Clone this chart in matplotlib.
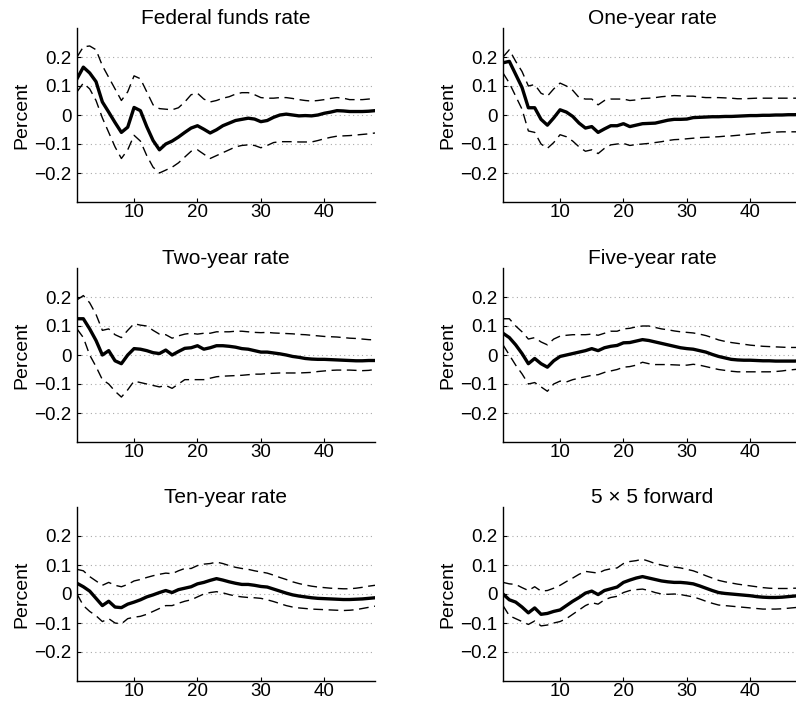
import numpy as np
import matplotlib
matplotlib.use('Agg')
import matplotlib.pyplot as plt

plt.rcParams['font.family'] = ['Liberation Sans', 'DejaVu Sans']
plt.rcParams['axes.unicode_minus'] = True

# horizon (months)
months = list(range(1, 49))

titles = ['Federal funds rate', 'One-year rate', 'Two-year rate',
          'Five-year rate', 'Ten-year rate', '5 \u00d7 5 forward']

# point estimates and bands
ff_mid = [0.125, 0.165, 0.145, 0.115, 0.045, 0.01, -0.026, -0.06, -0.042, 0.026,
          0.015, -0.04, -0.088, -0.12, -0.1, -0.09, -0.076, -0.06, -0.045, -0.037,
          -0.049, -0.062, -0.051, -0.037, -0.028, -0.019, -0.015, -0.011, -0.014, -0.023,
          -0.019, -0.008, 0.0, 0.003, 0.0, -0.003, -0.002, -0.003, 0.0, 0.006,
          0.01, 0.015, 0.014, 0.012, 0.012, 0.012, 0.013, 0.015]
ff_up = [0.2, 0.235, 0.238, 0.225, 0.17, 0.13, 0.09, 0.05, 0.08, 0.135,
         0.125, 0.08, 0.035, 0.022, 0.02, 0.018, 0.025, 0.045, 0.07, 0.075,
         0.055, 0.045, 0.05, 0.058, 0.063, 0.072, 0.077, 0.077, 0.07, 0.06,
         0.058, 0.058, 0.06, 0.06, 0.057, 0.053, 0.05, 0.048, 0.05, 0.053,
         0.057, 0.06, 0.058, 0.053, 0.053, 0.053, 0.055, 0.057]
ff_lo = [0.08, 0.11, 0.09, 0.05, -0.01, -0.06, -0.11, -0.15, -0.12, -0.07,
         -0.09, -0.14, -0.18, -0.2, -0.19, -0.18, -0.165, -0.145, -0.125, -0.12,
         -0.135, -0.15, -0.14, -0.13, -0.12, -0.11, -0.105, -0.103, -0.105, -0.113,
         -0.105, -0.095, -0.092, -0.092, -0.092, -0.093, -0.093, -0.093, -0.088, -0.082,
         -0.077, -0.073, -0.072, -0.071, -0.069, -0.067, -0.065, -0.062]

y1_mid = [0.18, 0.185, 0.14, 0.095, 0.025, 0.025, -0.015, -0.035, -0.01, 0.018,
          0.01, -0.005, -0.028, -0.045, -0.04, -0.06, -0.048, -0.037, -0.037, -0.03,
          -0.04, -0.035, -0.03, -0.029, -0.028, -0.023, -0.018, -0.015, -0.015, -0.014,
          -0.009, -0.008, -0.007, -0.006, -0.006, -0.005, -0.005, -0.004, -0.003, -0.002,
          -0.002, -0.001, -0.001, 0.0, 0.0, 0.001, 0.001, 0.002]
y1_up = [0.2, 0.225, 0.185, 0.15, 0.1, 0.105, 0.075, 0.065, 0.09, 0.11,
         0.1, 0.085, 0.06, 0.055, 0.055, 0.035, 0.05, 0.055, 0.055, 0.055,
         0.05, 0.052, 0.057, 0.058, 0.06, 0.063, 0.065, 0.067, 0.066, 0.065,
         0.065, 0.062, 0.06, 0.06, 0.06, 0.059, 0.058, 0.056, 0.056, 0.057,
         0.058, 0.058, 0.058, 0.058, 0.058, 0.058, 0.058, 0.058]
y1_lo = [0.145, 0.11, 0.065, 0.02, -0.055, -0.06, -0.1, -0.115, -0.095, -0.068,
         -0.075, -0.09, -0.11, -0.125, -0.12, -0.133, -0.115, -0.103, -0.1, -0.098,
         -0.105, -0.102, -0.1, -0.098, -0.095, -0.092, -0.088, -0.085, -0.084, -0.082,
         -0.08, -0.078, -0.077, -0.076, -0.075, -0.073, -0.072, -0.07, -0.068, -0.066,
         -0.064, -0.062, -0.06, -0.059, -0.058, -0.058, -0.058, -0.058]

y2_mid = [0.125, 0.125, 0.09, 0.05, 0.0, 0.015, -0.02, -0.03, 0.0, 0.022,
          0.02, 0.015, 0.008, 0.005, 0.017, 0.0, 0.012, 0.023, 0.025, 0.032,
          0.02, 0.025, 0.032, 0.032, 0.03, 0.027, 0.022, 0.02, 0.015, 0.01,
          0.01, 0.007, 0.004, 0.0, -0.005, -0.008, -0.012, -0.014, -0.015, -0.015,
          -0.016, -0.017, -0.018, -0.019, -0.02, -0.02, -0.019, -0.019]
y2_up = [0.19, 0.205, 0.18, 0.14, 0.085, 0.09, 0.07, 0.06, 0.085, 0.108,
         0.103, 0.1, 0.085, 0.072, 0.07, 0.058, 0.066, 0.072, 0.075, 0.072,
         0.075, 0.075, 0.08, 0.08, 0.08, 0.082, 0.082, 0.08, 0.078, 0.077,
         0.078, 0.076, 0.075, 0.074, 0.073, 0.071, 0.07, 0.068, 0.066, 0.064,
         0.063, 0.062, 0.06, 0.058, 0.057, 0.055, 0.053, 0.052]
y2_lo = [0.09, 0.06, 0.0, -0.04, -0.085, -0.1, -0.125, -0.145, -0.12, -0.09,
         -0.095, -0.1, -0.105, -0.11, -0.105, -0.115, -0.1, -0.085, -0.085, -0.085,
         -0.085, -0.08, -0.075, -0.073, -0.072, -0.071, -0.07, -0.068, -0.066, -0.066,
         -0.064, -0.063, -0.062, -0.062, -0.062, -0.062, -0.061, -0.06, -0.057, -0.055,
         -0.053, -0.052, -0.052, -0.052, -0.053, -0.054, -0.053, -0.05]

y5_mid = [0.075, 0.06, 0.035, 0.005, -0.03, -0.012, -0.03, -0.042, -0.02, -0.005,
          0.0, 0.005, 0.01, 0.015, 0.022, 0.015, 0.025, 0.03, 0.033, 0.042,
          0.043, 0.048, 0.053, 0.05, 0.045, 0.04, 0.035, 0.03, 0.025, 0.022,
          0.02, 0.015, 0.01, 0.002, -0.005, -0.01, -0.015, -0.017, -0.018, -0.018,
          -0.019, -0.02, -0.02, -0.021, -0.021, -0.021, -0.021, -0.02]
y5_up = [0.125, 0.125, 0.1, 0.08, 0.055, 0.06, 0.045, 0.035, 0.055, 0.065,
         0.068, 0.07, 0.07, 0.07, 0.072, 0.068, 0.075, 0.082, 0.082, 0.09,
         0.092, 0.097, 0.1, 0.1, 0.095, 0.09, 0.087, 0.083, 0.08, 0.078,
         0.076, 0.072, 0.067, 0.06, 0.052, 0.047, 0.043, 0.04, 0.037, 0.034,
         0.032, 0.03, 0.029, 0.028, 0.027, 0.026, 0.026, 0.026]
y5_lo = [0.035, 0.0, -0.035, -0.065, -0.1, -0.095, -0.11, -0.125, -0.1, -0.09,
         -0.093, -0.085, -0.08, -0.075, -0.07, -0.068, -0.06, -0.055, -0.05, -0.042,
         -0.04, -0.035, -0.025, -0.03, -0.033, -0.033, -0.033, -0.034, -0.035, -0.035,
         -0.032, -0.035, -0.04, -0.045, -0.05, -0.053, -0.056, -0.058, -0.058, -0.058,
         -0.058, -0.058, -0.058, -0.057, -0.055, -0.052, -0.05, -0.048]

y10_mid = [0.037, 0.025, 0.01, -0.015, -0.04, -0.025, -0.045, -0.047, -0.035, -0.028,
           -0.02, -0.01, -0.003, 0.005, 0.012, 0.005, 0.015, 0.02, 0.025, 0.035,
           0.04, 0.047, 0.053, 0.048, 0.042, 0.037, 0.033, 0.033, 0.03, 0.026,
           0.024, 0.017, 0.01, 0.003, -0.003, -0.007, -0.01, -0.013, -0.015, -0.016,
           -0.017, -0.018, -0.019, -0.019, -0.018, -0.017, -0.015, -0.013]
y10_up = [0.085, 0.08, 0.06, 0.045, 0.03, 0.04, 0.03, 0.025, 0.033, 0.045,
          0.05, 0.057, 0.063, 0.068, 0.072, 0.07, 0.08, 0.088, 0.088, 0.098,
          0.103, 0.105, 0.11, 0.105, 0.098, 0.092, 0.088, 0.085, 0.08, 0.076,
          0.072, 0.065, 0.057, 0.05, 0.042, 0.036, 0.031, 0.027, 0.024, 0.022,
          0.02, 0.019, 0.018, 0.018, 0.02, 0.023, 0.027, 0.03]
y10_lo = [0.0, -0.04, -0.06, -0.075, -0.095, -0.085, -0.1, -0.103, -0.085, -0.08,
          -0.077, -0.07, -0.06, -0.05, -0.04, -0.04, -0.032, -0.025, -0.02, -0.01,
          0.0, 0.005, 0.008, 0.004, -0.002, -0.007, -0.01, -0.012, -0.013, -0.015,
          -0.02, -0.026, -0.033, -0.04, -0.045, -0.048, -0.05, -0.052, -0.053, -0.054,
          -0.055, -0.056, -0.057, -0.056, -0.054, -0.05, -0.046, -0.042]

fwd_mid = [0.0, -0.02, -0.028, -0.045, -0.065, -0.048, -0.07, -0.067, -0.06, -0.055,
           -0.04, -0.025, -0.012, 0.003, 0.01, -0.002, 0.012, 0.018, 0.024, 0.04,
           0.048, 0.055, 0.06, 0.055, 0.05, 0.045, 0.042, 0.04, 0.04, 0.038,
           0.035, 0.028, 0.02, 0.012, 0.005, 0.002, 0.0, -0.002, -0.004, -0.006,
           -0.009, -0.011, -0.012, -0.012, -0.011, -0.009, -0.007, -0.005]
fwd_up = [0.04, 0.035, 0.033, 0.022, 0.012, 0.025, 0.01, 0.012, 0.02, 0.03,
          0.043, 0.055, 0.068, 0.078, 0.075, 0.072, 0.082, 0.087, 0.09, 0.105,
          0.112, 0.115, 0.12, 0.113, 0.105, 0.1, 0.095, 0.093, 0.09, 0.085,
          0.08, 0.072, 0.063, 0.055, 0.047, 0.042, 0.038, 0.034, 0.031, 0.028,
          0.025, 0.022, 0.02, 0.019, 0.019, 0.019, 0.02, 0.02]
fwd_lo = [-0.04, -0.075, -0.085, -0.095, -0.105, -0.093, -0.11, -0.107, -0.1, -0.095,
          -0.085, -0.07, -0.055, -0.04, -0.03, -0.035, -0.02, -0.012, -0.008, 0.005,
          0.012, 0.015, 0.017, 0.012, 0.005, 0.0, -0.001, 0.0, -0.002, -0.006,
          -0.01, -0.017, -0.025, -0.032, -0.038, -0.04, -0.042, -0.044, -0.046, -0.048,
          -0.05, -0.052, -0.052, -0.052, -0.051, -0.049, -0.047, -0.045]

mids = [ff_mid, y1_mid, y2_mid, y5_mid, y10_mid, fwd_mid]
ups = [ff_up, y1_up, y2_up, y5_up, y10_up, fwd_up]
los = [ff_lo, y1_lo, y2_lo, y5_lo, y10_lo, fwd_lo]

yticks = [-0.2, -0.1, 0, 0.1, 0.2]
ytick_labels = ['\u22120.2', '\u22120.1', '0', '0.1', '0.2']

W, H = 796, 702
fig = plt.figure(figsize=(W / 100, H / 100), dpi=100)

lefts = [77, 503]
bottoms = [202, 442, 681]  # bottom spine, pixels from top
ax_w, ax_h = 298, 174

for i in range(6):
    r, c = divmod(i, 2)
    ax = fig.add_axes([lefts[c] / W, 1 - bottoms[r] / H, ax_w / W, ax_h / H])
    ax.plot(months, ups[i], color='black', lw=1.0, dashes=(7, 4))
    ax.plot(months, los[i], color='black', lw=1.0, dashes=(7, 4))
    ax.plot(months, mids[i], color='black', lw=2.4)
    ax.set_xlim(1, 48)
    ax.set_ylim(-0.3, 0.3)
    ax.set_xticks([10, 20, 30, 40])
    ax.set_yticks(yticks)
    ax.set_yticklabels(ytick_labels)
    for y in yticks:
        ax.axhline(y, color='#aaaaaa', lw=0.8, ls=(0, (1, 3)), zorder=0)
    ax.spines['top'].set_visible(False)
    ax.spines['right'].set_visible(False)
    ax.spines['left'].set_linewidth(1.0)
    ax.spines['bottom'].set_linewidth(1.0)
    ax.tick_params(direction='in', length=3, labelsize=13.5)
    ax.tick_params(axis='y', pad=4)
    ax.tick_params(axis='x', pad=1.5)
    ax.set_title(titles[i], fontsize=15, pad=2)
    ax.set_ylabel('Percent', fontsize=14, labelpad=3)

fig.savefig('out.png', dpi=100)
